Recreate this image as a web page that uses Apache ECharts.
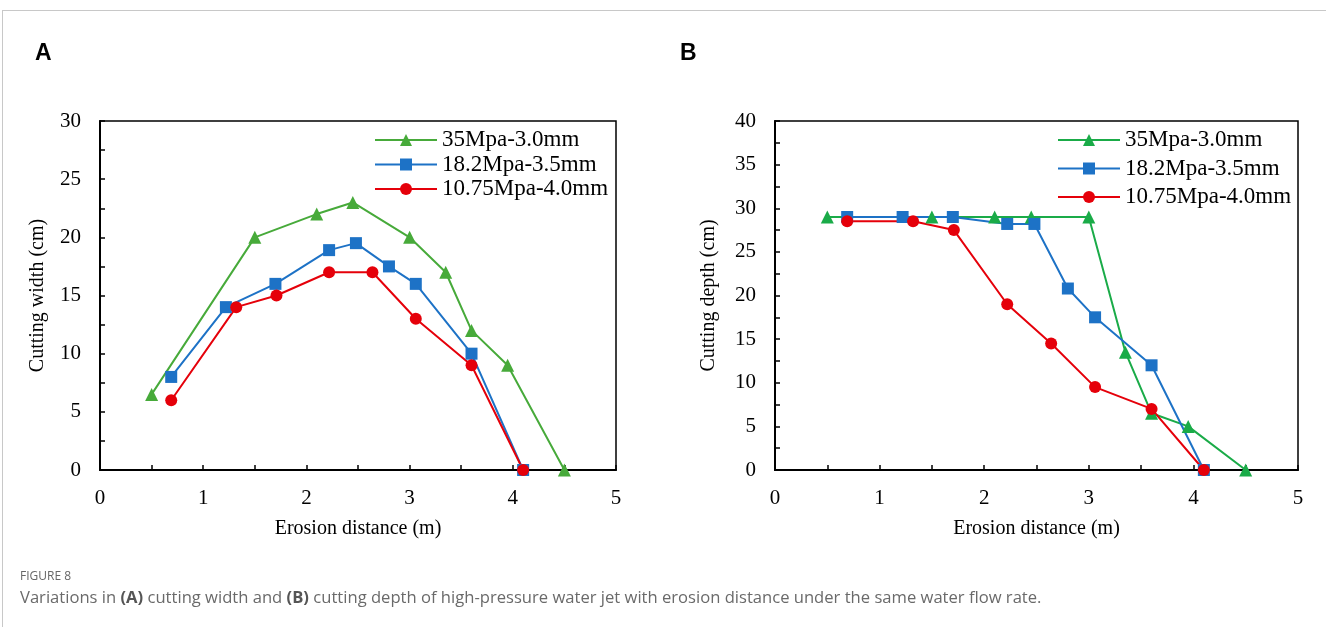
<!DOCTYPE html>
<html>
<head>
<meta charset="utf-8">
<script src="https://cdn.jsdelivr.net/npm/echarts@6/dist/echarts.min.js"></script>
<style>
html,body{margin:0;padding:0;background:#fff;}
#wrap{position:relative;width:1326px;height:627px;overflow:hidden;}
#frame{position:absolute;left:2px;top:10px;width:1330px;height:640px;border-top:1px solid #c8c8c8;border-left:1px solid #c8c8c8;}
#chart{position:absolute;left:0;top:0;width:1326px;height:627px;}
.panel{position:absolute;font-family:"Liberation Sans",Arial,sans-serif;font-weight:700;font-size:23px;line-height:23px;color:#000;}
#fig{position:absolute;left:20px;top:567px;font-family:"Open Sans",sans-serif;font-size:12px;color:#666;}
#cap{position:absolute;left:20px;top:585px;font-family:"Open Sans",sans-serif;font-size:16.6px;color:#6a6a6a;white-space:nowrap;}
#cap b{color:#555;}
</style>
</head>
<body>
<div id="wrap">
<div id="frame"></div>
<div id="chart"></div>
<div class="panel" style="left:35px;top:41px;">A</div>
<div class="panel" style="left:680px;top:41px;">B</div>
<div id="fig">FIGURE 8</div>
<div id="cap">Variations in <b>(A)</b> cutting width and <b>(B)</b> cutting depth of high-pressure water jet with erosion distance under the same water flow rate.</div>
</div>
<script>
// Series names
const seriesNames = ['35Mpa-3.0mm', '18.2Mpa-3.5mm', '10.75Mpa-4.0mm'];
// Erosion distance (m) for each series
const xGreen = [0.5, 1.5, 2.1, 2.45, 3.0, 3.35, 3.6, 3.95, 4.5];
const xBlue  = [0.69, 1.22, 1.7, 2.22, 2.48, 2.8, 3.06, 3.6, 4.1];
const xRed   = [0.69, 1.32, 1.71, 2.22, 2.64, 3.06, 3.6, 4.1];
// (A) Cutting width (cm)
const widthGreen = [6.5, 20, 22, 23, 20, 17, 12, 9, 0];
const widthBlue  = [8, 14, 16, 18.9, 19.5, 17.5, 16, 10, 0];
const widthRed   = [6, 14, 15, 17, 17, 13, 9, 0];
// (B) Cutting depth (cm)
const depthGreen = [29, 29, 29, 29, 29, 13.5, 6.5, 5, 0];
const depthBlue  = [29, 29, 29, 28.2, 28.2, 20.8, 17.5, 12, 0];
const depthRed   = [28.5, 28.5, 27.5, 19, 14.5, 9.5, 7, 0];

const pairs = (xs, ys) => xs.map((x, i) => [x, ys[i]]);
const serif = '"Liberation Serif","Times New Roman",serif';
const colA = ['#47AA3A', '#1D72C6', '#E5000A'];
const colB = ['#1AAB48', '#1D72C6', '#E5000A'];
const symbols = ['triangle', 'rect', 'circle'];
const sizes = [13, 12, 12];

function xAxis(gi) {
  return {
    type: 'value', gridIndex: gi, min: 0, max: 5, interval: 0.5,
    name: 'Erosion distance (m)', nameLocation: 'middle', nameGap: 49,
    nameTextStyle: {fontFamily: serif, fontSize: 20, color: '#000'},
    axisLine: {show: true, onZero: false, lineStyle: {color: '#000', width: 2}},
    axisTick: {show: true, inside: true, length: 5, lineStyle: {color: '#000', width: 1.5}},
    axisLabel: {fontFamily: serif, fontSize: 21, color: '#000', margin: 18,
      formatter: v => (Math.abs(v - Math.round(v)) < 1e-6 ? String(Math.round(v)) : '')},
    splitLine: {show: false}
  };
}
function yAxis(gi, max, name, gap) {
  return {
    type: 'value', gridIndex: gi, min: 0, max: max, interval: 2.5,
    name: name, nameLocation: 'middle', nameGap: gap,
    nameTextStyle: {fontFamily: serif, fontSize: 20, color: '#000'},
    axisLine: {show: true, onZero: false, lineStyle: {color: '#000', width: 2}},
    axisTick: {show: true, inside: true, length: 5, lineStyle: {color: '#000', width: 1.5}},
    axisLabel: {fontFamily: serif, fontSize: 21, color: '#000', margin: 19,
      formatter: v => (Math.abs(v % 5) < 1e-6 ? String(v) : '')},
    splitLine: {show: false}
  };
}
function mk(name, gi, data, color, sym, size) {
  return {
    name: name, type: 'line', xAxisIndex: gi, yAxisIndex: gi, data: data,
    symbol: sym, symbolSize: size, showSymbol: true,
    lineStyle: {color: color, width: 2}, itemStyle: {color: color},
    animation: false
  };
}
const dataA = [pairs(xGreen, widthGreen), pairs(xBlue, widthBlue), pairs(xRed, widthRed)];
const dataB = [pairs(xGreen, depthGreen), pairs(xBlue, depthBlue), pairs(xRed, depthRed)];
const series = [];
seriesNames.forEach((n, i) => series.push(mk('A|' + n, 0, dataA[i], colA[i], symbols[i], sizes[i])));
seriesNames.forEach((n, i) => series.push(mk('B|' + n, 1, dataB[i], colB[i], symbols[i], sizes[i])));

function legend(prefix, left, top, gap) {
  return {
    orient: 'vertical', left: left, top: top, padding: 0,
    itemWidth: 62, itemHeight: 15, itemGap: gap,
    selectedMode: false, data: seriesNames.map(n => prefix + n),
    formatter: n => n.slice(2),
    textStyle: {fontFamily: serif, fontSize: 23, lineHeight: 24, color: '#000'}
  };
}

const chart = echarts.init(document.getElementById('chart'), null, {renderer: 'canvas'});
chart.setOption({
  animation: false,
  backgroundColor: 'transparent',
  grid: [
    {left: 100, right: 710, top: 121, bottom: 157, show: true, borderColor: '#000', borderWidth: 1.5, containLabel: false},
    {left: 775, right: 28, top: 121, bottom: 157, show: true, borderColor: '#000', borderWidth: 1.5, containLabel: false}
  ],
  xAxis: [xAxis(0), xAxis(1)],
  yAxis: [yAxis(0, 30, 'Cutting width (cm)', 52), yAxis(1, 40, 'Cutting depth (cm)', 56)],
  legend: [legend('A|', 374, 128, 0.5), legend('B|', 1057, 128, 4.5)],
  series: series
});
</script>
</body>
</html>
